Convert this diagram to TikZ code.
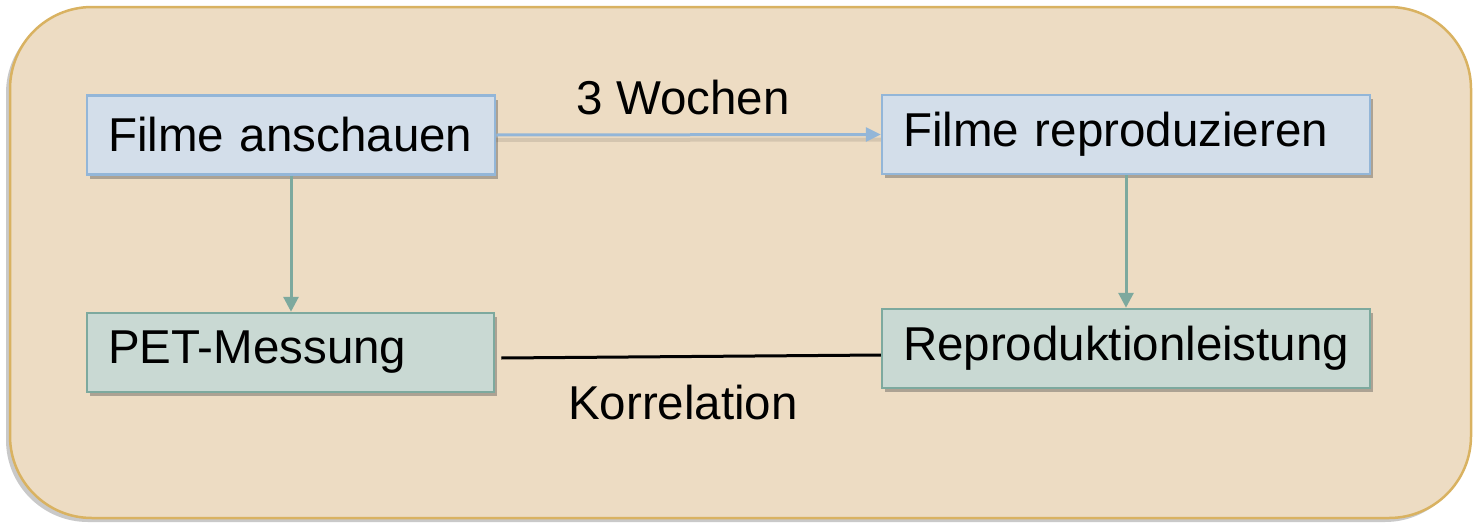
\documentclass[tikz,border=0pt]{standalone}
\usepackage{fontspec}
\setmainfont{Liberation Sans}
\usetikzlibrary{shadows,arrows.meta}
\definecolor{bgfill}{HTML}{EDDCC3}
\definecolor{bgdraw}{HTML}{D9B261}
\definecolor{bluefill}{HTML}{D3DEEA}
\definecolor{bluedraw}{HTML}{93B6D8}
\definecolor{greenfill}{HTML}{C9D9D3}
\definecolor{greendraw}{HTML}{7DA99E}
\tikzset{
  boxstyle/.style={rectangle, line width=2.5pt, inner xsep=21pt, inner ysep=0pt,
    minimum height=79pt, align=left, anchor=center,
    font=\fontsize{47.5}{57}\selectfont,
    drop shadow={shadow xshift=3pt, shadow yshift=-4pt, opacity=0.4, fill=black!70}},
  bluebox/.style={boxstyle, fill=bluefill, draw=bluedraw},
  greenbox/.style={boxstyle, fill=greenfill, draw=greendraw},
  lbl/.style={font=\fontsize{47.5}{57}\selectfont, inner sep=0pt},
  tealarrow/.style={draw=greendraw, line width=3pt, -{Triangle[length=15pt,width=15pt]}},
  bluearrow/.style={draw=bluedraw, line width=3pt, -{Triangle[length=15pt,width=14pt]}}
}
\begin{document}
\begin{tikzpicture}[x=1pt,y=-1pt]
\useasboundingbox (0,0) rectangle (1474,522);
\path[fill=bgfill, draw=bgdraw, line width=2.5pt, rounded corners=82pt,
  drop shadow={shadow xshift=-4pt, shadow yshift=-4pt, opacity=0.3, fill=black!70}]
  (10,7) rectangle (1471,518);
\node[bluebox, text width=366pt] (b1) at (291,135) {Filme anschauen};
\node[bluebox, text width=446pt] (b2) at (1126,134.5) {Filme reproduzieren};
\node[greenbox, text width=365pt] (b3) at (290.5,352.5) {PET-Messung};
\node[greenbox, text width=446pt] (b4) at (1126,348.5) {Reproduktionleistung};
% arrows
\draw[draw=black, opacity=0.1, line width=4pt] ([yshift=-5pt]b1.east) -- ([yshift=-5pt]b2.west);
\draw[bluearrow] (b1.east) -- (b2.west);
\draw[tealarrow] (b1.south) -- (b1.south |- b3.north);
\draw[tealarrow] (b2.south) -- (b2.south |- b4.north);
\draw[black, line width=3pt] ([xshift=6pt,yshift=-5.5pt]b3.east) -- ([yshift=-6.5pt]b4.west);
% labels
\node[lbl] (w3) at (683,98) {3 Wochen};
\node[lbl] (kor) at (683,403) {Korrelation};
\end{tikzpicture}
\end{document}
